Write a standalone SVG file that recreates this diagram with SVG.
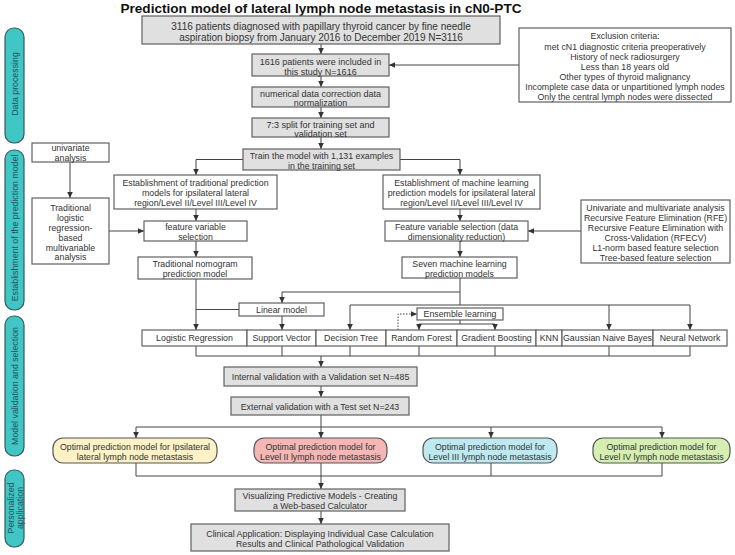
<svg xmlns="http://www.w3.org/2000/svg" width="735" height="555" viewBox="0 0 735 555">
<defs>
<marker id="arr" viewBox="0 0 6 6" refX="6" refY="3" markerWidth="6" markerHeight="6" markerUnits="userSpaceOnUse" orient="auto"><path d="M0,0.2 L6,3 L0,5.8 z" fill="#333"/></marker>
</defs>
<style>
text{font-family:"Liberation Sans",Arial,sans-serif;font-size:8.8px;fill:#333;text-anchor:middle}
.t{font-size:13.6px;font-weight:bold;fill:#111}
.f10{font-size:10px}
.f9{font-size:9px}
.side rect{fill:#41c6c6;stroke:#35595c;stroke-width:1.2}
.side text{fill:#23525c;font-size:8.8px}
.g{fill:#e0e0e0;stroke:#606060;stroke-width:1.2}
.w{fill:#fff;stroke:#606060;stroke-width:1.2}
.c path{fill:none;stroke:#444;stroke-width:1}
.c .a{marker-end:url(#arr)}
.c .d{stroke-dasharray:1.5,1.5}
.y{fill:#fcf2c6;stroke:#555;stroke-width:1.2}
.p{fill:#f4b7b5;stroke:#555;stroke-width:1.2}
.b{fill:#bfe9f0;stroke:#555;stroke-width:1.2}
.gr{fill:#d5eeb1;stroke:#555;stroke-width:1.2}
</style>
<text class="t" x="321" y="12.5">Prediction model of lateral lymph node metastasis in cN0-PTC</text>

<g class="side" id="side1"><rect x="5" y="28" width="19" height="115" rx="9"/><text transform="translate(17.5,84) rotate(-90)">Data processing</text></g>
<g class="side" id="side2"><rect x="5" y="150" width="19" height="160" rx="9"/><text transform="translate(17.5,228) rotate(-90)">Establishment of the prediction model</text></g>
<g class="side" id="side3"><rect x="5" y="316" width="19" height="140" rx="9"/><text transform="translate(17.5,386) rotate(-90)">Model validation and selection</text></g>
<g class="side" id="side4"><rect x="5" y="470" width="19" height="77" rx="9"/><text transform="translate(13.5,508) rotate(-90)">Personalized</text><text transform="translate(22.5,508) rotate(-90)">application</text></g>

<g class="c" id="connectors">
<path class="a" d="M321,44 V54"/>
<path class="a" d="M321,76 V87"/>
<path class="a" d="M321,107 V118"/>
<path class="a" d="M321,137 V149"/>
<path class="a" d="M519,65 H389"/>
<path class="a" d="M243,159.5 H196 V175"/>
<path class="a" d="M400,159.5 H460 V175"/>
<path class="a" d="M70,162 V198"/>
<path class="a" d="M109,231 H144"/>
<path class="a" d="M196,209 V221"/>
<path class="a" d="M196,241 V257"/>
<path class="a" d="M196,279 V330"/>
<path d="M239,309.5 H196"/>
<path class="a" d="M460,209 V221"/>
<path class="a" d="M581,231 H528"/>
<path class="a" d="M460,241 V257"/>
<path class="a" d="M460,278 V292 H282 V303"/>
<path class="a" d="M460,292 V305 H350 V330"/>
<path class="a" d="M460,305 H609 V330"/>
<path class="a" d="M609,305 H690 V330"/>
<path class="a" d="M282,316 V330"/>
<path class="a" d="M460,320 V324 H419 V330"/>
<path class="a" d="M460,324 H495 V330"/>
<path class="a d" d="M398,330 V314 H417"/>
<path d="M196,346 V356 H690 V346 M282,346 V356 M350,346 V356 M419,346 V356 M495,346 V356 M609,346 V356"/>
<path class="a" d="M321,356 V367"/>
<path class="a" d="M321,386 V397"/>
<path class="a" d="M321,415 V427 H136 V438"/>
<path class="a" d="M321,427 V438"/>
<path class="a" d="M321,427 H491 V438"/>
<path class="a" d="M491,427 H662 V438"/>
<path d="M136,463 V476 H662 V463 M321,463 V476 M491,463 V476"/>
<path class="a" d="M321,476 V489"/>
<path class="a" d="M321,511 V524"/>
</g>

<g id="n_patients"><rect class="g" x="142" y="16" width="358" height="28"/><text class="f10" x="321" y="29.5">3116 patients diagnosed with papillary thyroid cancer by fine needle</text><text class="f10" x="321" y="40.5">aspiration biopsy from January 2016 to December 2019 N=3116</text></g>
<g id="n_included"><rect class="g" x="252" y="54" width="137" height="22"/><text class="f9" x="320.5" y="64.5">1616 patients were included in</text><text class="f9" x="320.5" y="74.5">this study N=1616</text></g>
<g id="n_norm"><rect class="g" x="252" y="87" width="137" height="20"/><text class="f9" x="320.5" y="97">numerical data correction data</text><text class="f9" x="320.5" y="106">normalization</text></g>
<g id="n_split"><rect class="g" x="252" y="118" width="137" height="19"/><text class="f9" x="320.5" y="128">7:3 split for training set and</text><text class="f9" x="320.5" y="137">validation set</text></g>
<g id="n_exclusion"><rect class="w" x="519" y="28" width="212" height="74"/>
<text x="625" y="39">Exclusion criteria:</text>
<text x="625" y="50">met cN1 diagnostic criteria preoperatively</text>
<text x="625" y="60">History of neck radiosurgery</text>
<text x="625" y="70">Less than 18 years old</text>
<text x="625" y="80">Other types of thyroid malignancy</text>
<text x="625" y="90">Incomplete case data or unpartitioned lymph nodes</text>
<text x="625" y="100">Only the central lymph nodes were dissected</text></g>
<g id="n_train"><rect class="g" x="243" y="149" width="157" height="21"/><text x="321.5" y="159">Train the model with 1,131 examples</text><text x="321.5" y="169">in the training set</text></g>
<g id="n_univariate"><rect class="w" x="32" y="143" width="77" height="19"/><text x="70.5" y="151">univariate</text><text x="70.5" y="161">analysis</text></g>
<g id="n_logistic"><rect class="w" x="32" y="198" width="77" height="66"/>
<text x="70.5" y="211">Traditional</text><text x="70.5" y="221">logistic</text><text x="70.5" y="231">regression-</text><text x="70.5" y="241">based</text><text x="70.5" y="251">multivariable</text><text x="70.5" y="260">analysis</text></g>
<g id="n_trad"><rect class="w" x="114" y="175" width="163" height="34"/><text x="195.5" y="186">Establishment of traditional prediction</text><text x="195.5" y="196">models for ipsilateral lateral</text><text x="195.5" y="206">region/Level II/Level III/Level IV</text></g>
<g id="n_ml"><rect class="w" x="383" y="175" width="157" height="34"/><text x="461.5" y="186">Establishment of machine learning</text><text x="461.5" y="196">prediction models for ipsilateral lateral</text><text x="461.5" y="206">region/Level II/Level III/Level IV</text></g>
<g id="n_feat_trad"><rect class="w" x="144" y="221" width="103" height="20"/><text x="195.5" y="230">feature variable</text><text x="195.5" y="240">selection</text></g>
<g id="n_feat_ml"><rect class="w" x="385" y="221" width="143" height="20"/><text x="456.5" y="230">Feature variable selection (data</text><text x="456.5" y="240">dimensionality reduction)</text></g>
<g id="n_methods"><rect class="w" x="581" y="200" width="149" height="63"/>
<text x="655.5" y="210.5">Univariate and multivariate analysis</text>
<text x="655.5" y="220.5">Recursive Feature Elimination (RFE)</text>
<text x="655.5" y="230.5">Recursive Feature Elimination with</text>
<text x="655.5" y="240.5">Cross-Validation (RFECV)</text>
<text x="655.5" y="250.5">L1-norm based feature selection</text>
<text x="655.5" y="260.5">Tree-based feature selection</text></g>
<g id="n_nomogram"><rect class="w" x="138" y="257" width="114" height="22"/><text x="195" y="267">Traditional nomogram</text><text x="195" y="276.5">prediction model</text></g>
<g id="n_seven"><rect class="w" x="402" y="257" width="115" height="21"/><text x="459.5" y="267">Seven machine learning</text><text x="459.5" y="277">prediction models</text></g>
<g id="n_linear"><rect class="w" x="239" y="303" width="85" height="13"/><text x="281.5" y="313">Linear model</text></g>
<g id="n_ensemble"><rect class="w" x="417" y="308" width="86" height="12"/><text x="460" y="317">Ensemble learning</text></g>
<g id="n_lr"><rect class="w" x="142" y="330" width="105" height="16"/><text x="194.5" y="341">Logistic Regression</text></g>
<g id="n_sv"><rect class="w" x="247" y="330" width="69" height="16"/><text x="281.5" y="341">Support Vector</text></g>
<g id="n_dt"><rect class="w" x="316" y="330" width="70" height="16"/><text x="351" y="341">Decision Tree</text></g>
<g id="n_rf"><rect class="w" x="386" y="330" width="71" height="16"/><text x="421.5" y="341">Random Forest</text></g>
<g id="n_gb"><rect class="w" x="457" y="330" width="79" height="16"/><text x="496.5" y="341">Gradient Boosting</text></g>
<g id="n_knn"><rect class="w" x="536" y="330" width="26" height="16"/><text x="549" y="341">KNN</text></g>
<g id="n_gnb"><rect class="w" x="562" y="330" width="91" height="16"/><text x="607.5" y="341">Gaussian Naive Bayes</text></g>
<g id="n_nn"><rect class="w" x="653" y="330" width="74" height="16"/><text x="690" y="341">Neural Network</text></g>
<g id="n_internal"><rect class="g" x="224" y="367" width="193" height="19"/><text x="320.5" y="380">Internal validation with a Validation set N=485</text></g>
<g id="n_external"><rect class="g" x="231" y="397" width="178" height="18"/><text x="320" y="409.5">External validation with a Test set N=243</text></g>
<g id="n_opt_ipsi"><rect class="y" x="53" y="438" width="164" height="25" rx="10"/><text x="135" y="450">Optimal prediction model for Ipsilateral</text><text x="135" y="459.5">lateral lymph node metastasis</text></g>
<g id="n_opt_l2"><rect class="p" x="254" y="438" width="133" height="25" rx="10"/><text x="320.5" y="450">Optimal prediction model for</text><text x="320.5" y="459.5">Level II lymph node metastasis</text></g>
<g id="n_opt_l3"><rect class="b" x="423" y="438" width="134" height="25" rx="10"/><text x="490" y="450">Optimal prediction model for</text><text x="490" y="459.5">Level III lymph node metastasis</text></g>
<g id="n_opt_l4"><rect class="gr" x="593" y="438" width="137" height="25" rx="10"/><text x="661.5" y="450">Optimal prediction model for</text><text x="661.5" y="459.5">Level IV lymph node metastasis</text></g>
<g id="n_visual"><rect class="g" x="235" y="489" width="170" height="22"/><text x="320" y="499">Visualizing Predictive Models - Creating</text><text x="320" y="509">a Web-based Calculator</text></g>
<g id="n_clinical"><rect class="g" x="191" y="524" width="258" height="27"/><text x="320" y="536.5">Clinical Application: Displaying Individual Case Calculation</text><text x="320" y="547">Results and Clinical Pathological Validation</text></g>
</svg>
